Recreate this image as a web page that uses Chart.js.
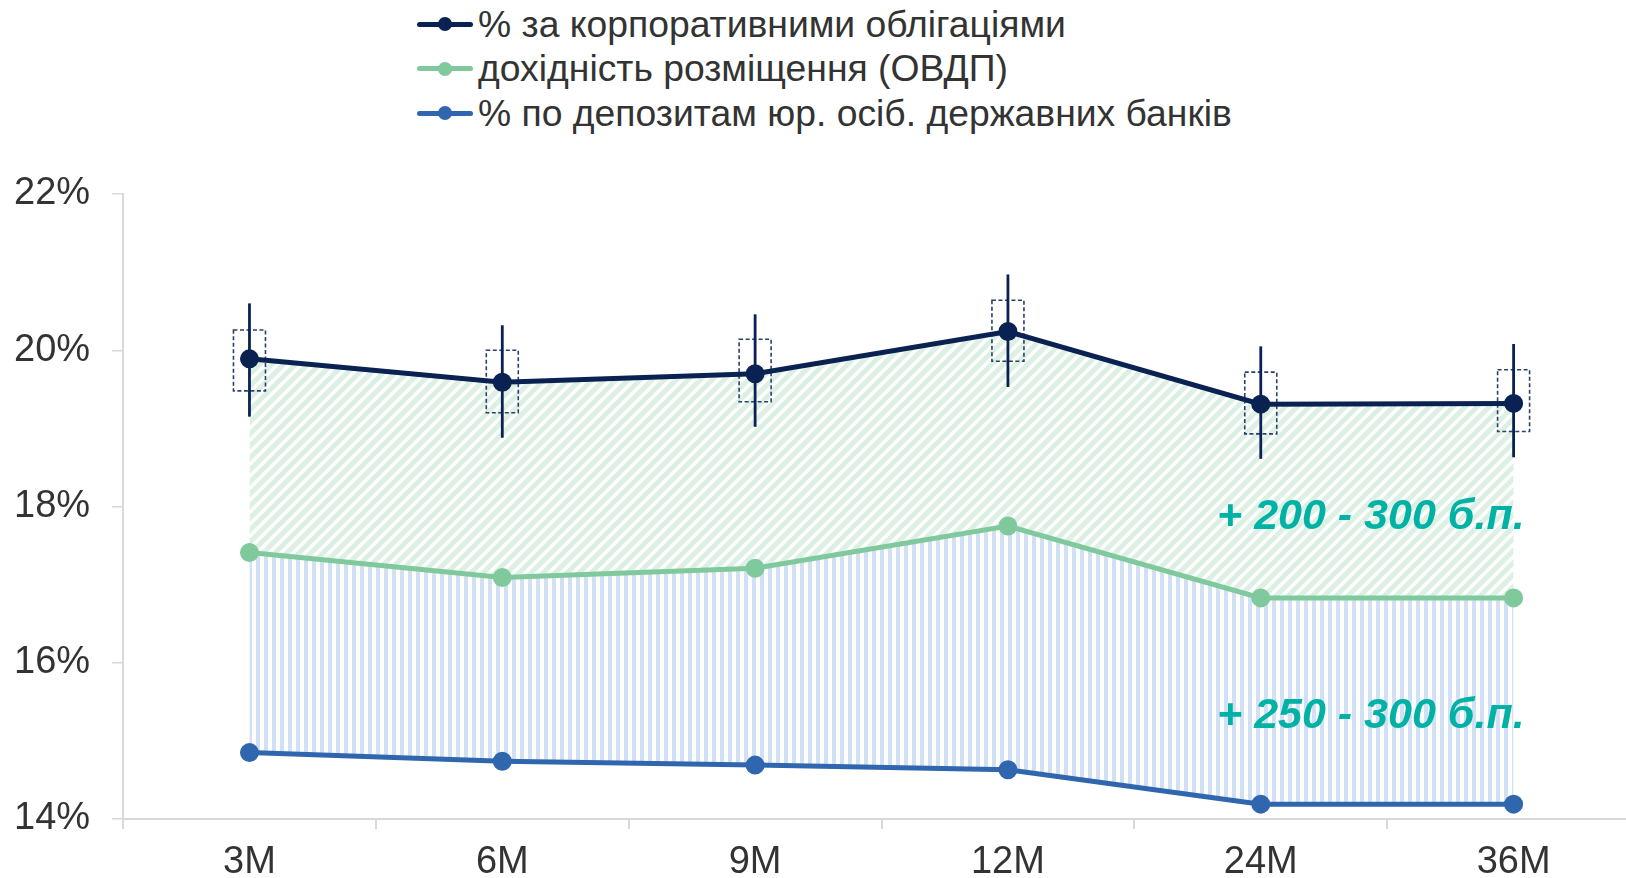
<!DOCTYPE html>
<html>
<head>
<meta charset="utf-8">
<script src="https://cdn.jsdelivr.net/npm/chart.js@4.4.0/dist/chart.umd.min.js"></script>
<style>
  html, body { margin: 0; padding: 0; background: #fff; overflow: hidden; }
  .wrap { position: relative; width: 1626px; height: 878px; overflow: hidden; }
  #chart { position: absolute; left: 0; top: 0; }
  #legend { position: absolute; left: 417px; top: 2px; font-family: "Liberation Sans", Arial, sans-serif; font-size: 37.3px; color: #333; }
  #legend ul { list-style: none; margin: 0; padding: 0; }
  #legend li { display: flex; align-items: center; height: 44.5px; white-space: nowrap; }
  #legend .mark { position: relative; width: 56px; height: 14px; margin-right: 5px; flex: none; }
  #legend .mark .ln { position: absolute; left: 0; right: 0; top: 4.5px; height: 5px; border-radius: 3px; }
  #legend .mark .dot { position: absolute; left: 21px; top: 0; width: 14px; height: 14px; border-radius: 50%; }
</style>
</head>
<body>
<div class="wrap">
  <div id="legend"></div>
  <canvas id="chart" width="1652" height="898"></canvas>
</div>
<script>
const categories = ['3M', '6M', '9M', '12M', '24M', '36M'];
const seriesNames = [
  '% за корпоративними облігаціями',
  'дохідність розміщення (ОВДП)',
  '% по депозитам юр. осіб. державних банків',
];
const corporate = [19.89, 19.59, 19.70, 20.24, 19.31, 19.32];
const ovdp = [17.41, 17.09, 17.21, 17.75, 16.83, 16.83];
const deposits = [14.85, 14.74, 14.69, 14.63, 14.19, 14.19];
const corpErrHigh = [20.60, 20.32, 20.46, 20.97, 20.05, 20.08];
const corpErrLow = [19.15, 18.88, 19.02, 19.53, 18.61, 18.63];
const corpBoxHigh = [20.26, 20.00, 20.14, 20.64, 19.72, 19.75];
const corpBoxLow = [19.48, 19.20, 19.34, 19.86, 18.93, 18.96];
const spreadLabels = ['+ 200 - 300 б.п.', '+ 250 - 300 б.п.'];
const yTicks = [14, 16, 18, 20, 22];

const colors = {
  corporate: '#0a2252',
  ovdp: '#7fc99c',
  deposits: '#2f66ae',
  axis: '#d9d9d9',
  text: '#333333',
  spread: '#00b2a5',
};

const tickFont = { family: '"Liberation Sans", Arial, sans-serif', size: 38, lineHeight: 1 };

function makePattern(size, draw) {
  const c = document.createElement('canvas');
  c.width = size;
  c.height = size;
  draw(c.getContext('2d'), size);
  return c.getContext('2d').createPattern(c, 'repeat');
}

const greenHatch = makePattern(12, (ctx, s) => {
  ctx.strokeStyle = '#dcf0e3';
  ctx.lineWidth = 5;
  ctx.beginPath();
  ctx.moveTo(-3, s + 3); ctx.lineTo(s + 3, -3);
  ctx.moveTo(-3, 3); ctx.lineTo(3, -3);
  ctx.moveTo(s - 3, s + 3); ctx.lineTo(s + 3, s - 3);
  ctx.stroke();
});

const blueStripes = makePattern(8, (ctx, s) => {
  ctx.fillStyle = '#d2e0f3';
  ctx.fillRect(0, 0, 4, s);
});

const htmlLegend = {
  id: 'htmlLegend',
  afterUpdate(chart) {
    const box = document.getElementById('legend');
    const items = chart.data.datasets
      .map((ds) => `<li><span class="mark"><span class="ln" style="background:${ds.borderColor}"></span>` +
        `<span class="dot" style="background:${ds.borderColor}"></span></span>${ds.label}</li>`)
      .join('');
    box.innerHTML = `<ul>${items}</ul>`;
  },
};

const errorBars = {
  id: 'errorBars',
  beforeDatasetsDraw(chart) {
    const { ctx, scales: { x, y } } = chart;
    ctx.save();
    corporate.forEach((_, i) => {
      const px = x.getPixelForValue(i);
      ctx.strokeStyle = '#2a406c';
      ctx.lineWidth = 1.6;
      ctx.setLineDash([4, 2.5]);
      const top = y.getPixelForValue(corpBoxHigh[i]);
      const bottom = y.getPixelForValue(corpBoxLow[i]);
      ctx.strokeRect(px - 16, top, 32, bottom - top);
      ctx.setLineDash([]);
      ctx.strokeStyle = colors.corporate;
      ctx.lineWidth = 2.8;
      ctx.beginPath();
      ctx.moveTo(px, y.getPixelForValue(corpErrHigh[i]));
      ctx.lineTo(px, y.getPixelForValue(corpErrLow[i]));
      ctx.stroke();
    });
    ctx.restore();
  },
};

const spreadText = {
  id: 'spreadText',
  afterDraw(chart) {
    const { ctx, scales: { x } } = chart;
    const right = x.getPixelForValue(categories.length - 1) + 11;
    ctx.save();
    ctx.font = 'italic bold 43px "Liberation Sans", Arial, sans-serif';
    ctx.fillStyle = colors.spread;
    ctx.textAlign = 'right';
    ctx.textBaseline = 'alphabetic';
    ctx.fillText(spreadLabels[0], right, 529);
    ctx.fillText(spreadLabels[1], right, 728);
    ctx.restore();
  },
};

const lineStyle = (color) => ({
  borderColor: color,
  backgroundColor: color,
  pointBackgroundColor: color,
  pointBorderColor: color,
  borderWidth: 5,
  pointRadius: 7,
  pointHoverRadius: 7,
  tension: 0,
});

new Chart(document.getElementById('chart'), {
  type: 'line',
  data: {
    labels: categories,
    datasets: [
      {
        label: seriesNames[0],
        data: corporate,
        ...lineStyle(colors.corporate),
        fill: { target: 1, above: greenHatch, below: greenHatch },
      },
      {
        label: seriesNames[1],
        data: ovdp,
        ...lineStyle(colors.ovdp),
        fill: { target: 2, above: blueStripes, below: blueStripes },
      },
      {
        label: seriesNames[2],
        data: deposits,
        ...lineStyle(colors.deposits),
        fill: false,
      },
    ],
  },
  options: {
    responsive: false,
    devicePixelRatio: 1,
    animation: false,
    layout: { padding: { left: -8, top: 194, right: 0, bottom: 1 } },
    plugins: {
      legend: { display: false },
      tooltip: { enabled: false },
      filler: { drawTime: 'beforeDatasetsDraw' },
    },
    scales: {
      x: {
        offset: true,
        grid: { drawOnChartArea: false, drawTicks: true, tickLength: 10, color: colors.axis, lineWidth: 2, offset: true },
        border: { color: colors.axis, width: 2 },
        ticks: { color: colors.text, padding: 15, font: tickFont, maxRotation: 0 },
      },
      y: {
        min: 14,
        max: 22,
        afterBuildTicks: (scale) => {
          scale.ticks = yTicks.map((value) => ({ value }));
        },
        grid: { drawOnChartArea: false, drawTicks: true, tickLength: 11, color: colors.axis, lineWidth: 1.5 },
        border: { color: colors.axis, width: 2 },
        ticks: {
          color: colors.text,
          padding: 22,
          font: tickFont,
          callback: (v) => `${v}%`,
        },
      },
    },
  },
  plugins: [htmlLegend, errorBars, spreadText],
});
</script>
</body>
</html>
